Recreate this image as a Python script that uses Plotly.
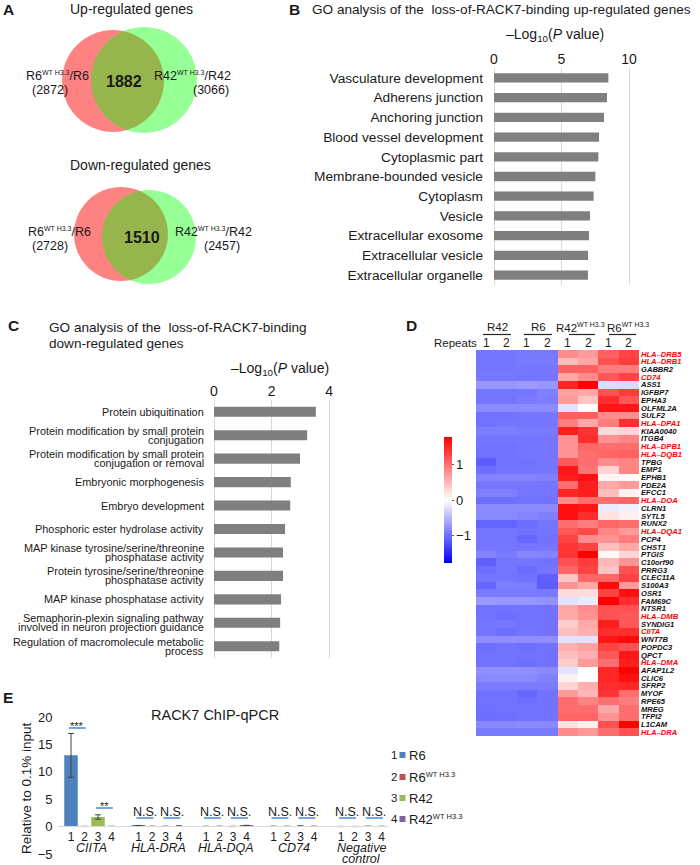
import plotly.graph_objects as go

W, H = 700, 865
FONT = "Arial, 'Liberation Sans', Helvetica, sans-serif"
TXT = "#1a1a1a"

# ------------------------------------------------------------------ data
# Panel A: Venn counts  [R6 side, overlap, R42 side]
venn_up_counts = [2872, 1882, 3066]
venn_down_counts = [2728, 1510, 2457]

# Panel B
go_up_terms = ["Vasculature development", "Adherens junction", "Anchoring junction",
               "Blood vessel development", "Cytoplasmic part", "Membrane-bounded vesicle",
               "Cytoplasm", "Vesicle", "Extracellular exosome", "Extracellular vesicle",
               "Extracellular organelle"]
go_up_values = [8.47, 8.37, 8.15, 7.78, 7.73, 7.51, 7.38, 7.11, 7.04, 6.97, 6.96]
go_up_ticks = [0, 5, 10]

# Panel C
go_down_terms = ["Protein ubiquitination",
                 "Protein modification by small protein<br>conjugation",
                 "Protein modification by small protein<br>conjugation or removal",
                 "Embryonic morphogenesis",
                 "Embryo development",
                 "Phosphoric ester hydrolase activity",
                 "MAP kinase tyrosine/serine/threonine<br>phosphatase activity",
                 "Protein tyrosine/serine/threonine<br>phosphatase activity",
                 "MAP kinase phosphatase activity",
                 "Semaphorin-plexin signaling pathway<br>involved in neuron projection guidance",
                 "Regulation of macromolecule metabolic<br>process"]
go_down_values = [3.54, 3.24, 2.99, 2.67, 2.65, 2.47, 2.40, 2.40, 2.33, 2.30, 2.27]
go_down_ticks = [0, 2, 4]

# Panel D: heatmap (row-scaled expression)
genes = ["HLA-DRB5", "HLA-DRB1", "GABBR2", "CD74", "ASS1", "IGFBP7", "EPHA3", "OLFML2A",
         "SULF2", "HLA-DPA1", "KIAA0040", "ITGB4", "HLA-DPB1", "HLA-DQB1", "TPBG", "EMP1",
         "EPHB1", "PDE2A", "EFCC1", "HLA-DOA", "CLRN1", "SYTL5", "RUNX2", "HLA-DQA1",
         "PCP4", "CHST1", "PTGIS", "C10orf90", "PRRG3", "CLEC11A", "S100A3", "OSR1",
         "FAM69C", "NTSR1", "HLA-DMB", "SYNDIG1", "CIITA", "WNT7B", "POPDC3", "QPCT",
         "HLA-DMA", "AFAP1L2", "CLIC6", "SFRP2", "MYOF", "RPE65", "MREG", "TFPI2",
         "L1CAM", "HLA-DRA"]
highlight_genes = ["HLA-DRB5", "HLA-DRB1", "CD74", "HLA-DPA1", "HLA-DPB1", "HLA-DQB1",
                   "HLA-DOA", "HLA-DQA1", "HLA-DMB", "CIITA", "HLA-DMA", "HLA-DRA"]
heat_columns = ["R42 1", "R42 2", "R6 1", "R6 2",
                "R42WT 1", "R42WT 2", "R6WT 1", "R6WT 2"]
r42_rep1 = [-0.95, -0.95, -0.95, -0.93, -0.72, -0.95, -0.95, -0.80, -0.97, -0.97,
            -0.90, -0.95, -0.97, -0.97, -1.12, -1.00, -0.85, -0.95, -0.88, -1.00,
            -0.80, -0.82, -1.07, -0.95, -0.95, -0.95, -0.85, -1.10, -1.00, -0.95,
            -1.05, -0.92, -0.70, -0.97, -0.97, -0.95, -0.95, -0.78, -1.00, -0.97,
            -0.97, -0.77, -0.82, -0.92, -0.97, -0.97, -1.00, -1.00, -0.82, -0.92]
r42_rep2 = [-0.95, -0.95, -0.95, -0.93, -0.72, -0.95, -0.95, -0.80, -0.97, -0.95,
            -0.90, -0.95, -0.97, -0.97, -0.97, -0.95, -0.85, -0.95, -0.88, -1.00,
            -0.80, -0.82, -1.07, -0.95, -0.95, -0.95, -0.92, -0.95, -0.95, -0.95,
            -0.90, -0.92, -0.72, -0.97, -1.00, -0.95, -1.00, -0.78, -0.97, -0.97,
            -0.97, -0.77, -0.82, -0.92, -0.97, -0.97, -0.97, -1.00, -0.82, -0.92]
r6_rep1 = [-0.93, -0.92, -0.95, -0.95, -0.70, -0.95, -0.92, -0.80, -0.95, -0.95,
           -0.92, -0.95, -0.95, -0.95, -0.97, -0.95, -0.85, -0.95, -0.95, -0.97,
           -0.80, -0.85, -1.00, -0.97, -1.05, -0.95, -0.83, -0.95, -1.02, -0.97,
           -0.90, -0.92, -0.72, -0.97, -0.97, -0.97, -0.95, -0.78, -1.00, -0.97,
           -1.00, -0.77, -0.82, -0.92, -1.05, -1.00, -0.97, -0.97, -0.80, -0.92]
r6_rep2 = [-0.93, -0.92, -0.95, -0.95, -0.72, -0.88, -0.90, -0.80, -0.95, -0.95,
           -0.92, -0.95, -0.95, -0.95, -0.95, -0.95, -0.87, -0.95, -0.95, -0.97,
           -0.80, -0.88, -0.95, -0.95, -0.97, -0.95, -0.85, -0.97, -0.95, -1.10,
           -1.12, -0.92, -0.75, -0.97, -0.97, -0.97, -0.97, -0.78, -0.97, -0.97,
           -0.97, -0.80, -0.87, -0.92, -0.97, -0.97, -0.97, -0.97, -0.82, -0.92]
r42wt_rep1 = [0.80, 0.45, 1.10, 0.60, 1.50, 0.65, 0.70, -0.20, 1.10, 0.90,
              1.55, 0.75, 0.75, 0.75, 1.15, 1.60, 1.55, 1.00, 1.50, 0.80,
              1.65, 1.65, 1.00, 1.15, 1.30, 1.40, 1.40, 1.20, 1.05, 0.40,
              0.75, 0.25, -0.20, 0.60, 0.60, 0.35, 0.45, -0.20, 0.55, 0.45,
              0.35, -0.20, 0.10, 0.30, 0.70, 1.00, 1.00, 1.05, 0.20, 0.80]
r42wt_rep2 = [0.70, 0.60, 1.10, 0.80, 1.75, 0.60, 0.40, 0.00, 1.10, 0.60,
              1.40, 1.45, 1.05, 1.00, 1.00, 0.95, 1.65, 1.55, 1.55, 1.00,
              1.60, 1.45, 0.90, 1.25, 0.80, 1.30, 1.75, 1.35, 1.30, 1.05,
              0.60, 0.25, -0.15, 0.80, 0.75, 0.60, 0.55, -0.20, 0.65, 0.55,
              0.70, 0.00, 0.00, 0.55, 0.50, 0.85, 1.00, 1.05, 0.10, 0.70]
r6wt_rep1 = [1.10, 1.20, 0.90, 1.15, -0.25, 1.20, 1.45, 1.60, 0.80, 0.90,
             0.25, 0.75, 1.00, 1.05, 0.80, 0.30, 0.07, 0.60, 0.45, 1.00,
             -0.15, 0.20, 1.05, 0.85, 0.75, 0.45, 0.05, 0.50, 0.40, 1.05,
             1.70, 1.30, 1.75, 1.20, 1.20, 1.55, 1.45, 1.60, 1.30, 1.15,
             1.00, 1.50, 1.50, 1.45, 1.40, 1.00, 0.60, 0.75, 1.20, 1.00]
r6wt_rep2 = [1.30, 1.35, 0.90, 1.30, -0.25, 1.35, 1.15, 1.60, 0.80, 1.45,
             0.30, 0.85, 1.00, 1.10, 0.85, 0.85, 0.03, 0.70, 0.10, 1.05,
             -0.10, 0.10, 1.00, 0.70, 0.90, 0.60, 0.30, 0.75, 1.20, 1.30,
             0.70, 1.65, 1.45, 1.20, 1.15, 1.15, 1.45, 1.70, 1.20, 1.60,
             1.55, 1.75, 1.65, 1.50, 1.00, 0.90, 1.00, 1.00, 1.75, 1.20]
heat_ticks = [-1, 0, 1]

# Panel E: ChIP-qPCR
chip_targets = ["CIITA", "HLA-DRA", "HLA-DQA", "CD74", "Negative<br>control"]
chip_series = ["R6", "R6|WT H3.3", "R42", "R42|WT H3.3"]
chip_r6 = [13.0, 0.15, 0.04, 0.05, 0.02]
chip_r6_err = [4.0, 0.06, 0.03, 0.03, 0.02]
chip_r6wt = [0.03, 0.04, 0.05, 0.04, 0.02]
chip_r6wt_err = [0.02, 0.03, 0.03, 0.03, 0.02]
chip_r42 = [1.75, 0.05, 0.03, 0.10, 0.05]
chip_r42_err = [0.40, 0.03, 0.03, 0.04, 0.03]
chip_r42wt = [0.04, 0.10, 0.18, 0.05, 0.04]
chip_r42wt_err = [0.02, 0.04, 0.05, 0.03, 0.02]
chip_sig = [["***", "**"], ["N.S.", "N.S."], ["N.S.", "N.S."], ["N.S.", "N.S."], ["N.S.", "N.S."]]
chip_yticks = [-5, 0, 5, 10, 15, 20]
chip_colors = ["#4F81BD", "#C0504D", "#9BBB59", "#8064A2"]


# ------------------------------------------------------------------ helpers
def X(px):
    return px / W


def Y(py):
    return 1 - py / H


def sup(base, s, size):
    return '%s<sup><span style="font-size:%spx">%s</span></sup>' % (base, size, s)


annotations = []
shapes = []


def ann(text, px, py, size=12, xanchor="center", yanchor="middle", color=TXT, **kw):
    d = dict(text=text, x=X(px), y=Y(py), xref="paper", yref="paper",
             xanchor=xanchor, yanchor=yanchor, showarrow=False,
             font=dict(size=size, color=color, family=FONT))
    d.update(kw)
    annotations.append(d)


fig = go.Figure()

# ------------------------------------------------------------------ Panel A
ann("<b>A</b>", 1, 9, size=15.5, xanchor="left")


def venn(title, ty, counts, red, green, txt_y, lab_l, lab_r):
    ann(title, *ty, size=14)
    for (cx, cy, r), col in [(red, "rgba(255,0,0,0.49)"), (green, "rgba(0,255,0,0.41)")]:
        shapes.append(dict(type="circle", xref="paper", yref="paper", layer="below",
                           x0=X(cx - r), x1=X(cx + r), y0=Y(cy + r), y1=Y(cy - r),
                           fillcolor=col, line=dict(width=0)))
    ann(sup("R6", "WT H3.3", 7) + "/R6", lab_l[0], txt_y, size=12.5)
    ann("(%d)" % counts[0], lab_l[1], txt_y + 14, size=12.5)
    ann("<b>%d</b>" % counts[1], lab_l[2], txt_y + 6, size=16)
    ann(sup("R42", "WT H3.3", 7) + "/R42", lab_r[0], txt_y, size=12.5)
    ann("(%d)" % counts[2], lab_r[1], txt_y + 14, size=12.5)


venn("Up-regulated genes", (131, 9), venn_up_counts, (113, 81, 51), (144, 80, 53),
     76, (58, 50, 124), (193, 211))
venn("Down-regulated genes", (140, 165), venn_down_counts, (121, 234, 47), (149, 237, 47),
     232, (59, 50, 142), (213, 222))

# ------------------------------------------------------------------ Panel B
fig.add_trace(go.Bar(x=go_up_values, y=go_up_terms, orientation="h", width=0.47,
                     marker=dict(color="#7f7f7f", line=dict(width=0)),
                     xaxis="x", yaxis="y", showlegend=False))
ann("<b>B</b>", 287, 10, size=15.5, xanchor="left")
ann("GO analysis of the \u00a0loss-of-RACK7-binding up-regulated genes", 310, 10,
    size=13.6, xanchor="left")
ann("\u2013Log<sub>10</sub>(<i>P</i> value)", 555, 35, size=14)

# ------------------------------------------------------------------ Panel C
fig.add_trace(go.Bar(x=go_down_values, y=go_down_terms, orientation="h", width=0.43,
                     marker=dict(color="#7f7f7f", line=dict(width=0)),
                     xaxis="x2", yaxis="y2", showlegend=False))
ann("<b>C</b>", 6, 325, size=15.5, xanchor="left")
ann("GO analysis of the \u00a0loss-of-RACK7-binding", 47, 327, size=13.6, xanchor="left")
ann("down-regulated genes", 47, 343, size=13.6, xanchor="left")
ann("\u2013Log<sub>10</sub>(<i>P</i> value)", 280, 369, size=14)
for term in go_down_terms:
    lines = term.split("<br>")
    shifts = [0] if len(lines) == 1 else [4.5, -4.5]
    for line, sh in zip(lines, shifts):
        annotations.append(dict(text=line, x=X(206), xref="paper", y=term, yref="y2",
                                xanchor="right", yanchor="middle", yshift=sh,
                                showarrow=False,
                                font=dict(size=10.9, color=TXT, family=FONT)))

# ------------------------------------------------------------------ Panel D
z = [list(row) for row in zip(r42_rep1, r42_rep2, r6_rep1, r6_rep2,
                              r42wt_rep1, r42wt_rep2, r6wt_rep1, r6wt_rep2)]
fig.add_trace(go.Heatmap(
    z=z, x=list(range(len(heat_columns))), y=genes, xaxis="x3", yaxis="y3",
    colorscale=[[0, "#0000ff"], [0.5, "#ffffff"], [1, "#ff0000"]],
    zmin=-1.76, zmax=1.76, xgap=0, ygap=0,
    colorbar=dict(x=X(444), xanchor="left", y=Y(500), yanchor="middle",
                  len=126 / H, lenmode="fraction", thickness=8, xpad=0, ypad=0,
                  outlinewidth=0, tickvals=heat_ticks,
                  ticktext=["\u22121" if t < 0 else str(t) for t in heat_ticks],
                  ticks="outside", ticklen=2, tickcolor="#555",
                  tickfont=dict(size=13, color=TXT, family=FONT))))
gene_text = []
for g in genes:
    col = "#ff0000" if g in highlight_genes else "#111111"
    gene_text.append('<span style="color:%s"><b><i>%s</i></b></span>' % (col, g.replace("-", "\u2013")))

ann("<b>D</b>", 404, 325, size=15.5, xanchor="left")
hdr = [("R42", 497, 483, 511), ("R6", 538, 524, 552),
       (sup("R42", "WT H3.3", 7), 580, 569, 595), (sup("R6", "WT H3.3", 7), 628, 609, 636)]
for text, cx, l, r in hdr:
    ann(text, cx, 327, size=11.5)
    shapes.append(dict(type="line", xref="paper", yref="paper", x0=X(l), x1=X(r),
                       y0=Y(334.5), y1=Y(334.5), line=dict(color="#222", width=1.2)))
ann("Repeats", 455, 343, size=11.5)
for i in range(len(heat_columns)):
    annotations.append(dict(text=heat_columns[i].split()[-1], x=i, xref="x3", y=Y(343),
                            yref="paper", xanchor="center", yanchor="middle",
                            showarrow=False, font=dict(size=12, color=TXT, family=FONT)))

# ------------------------------------------------------------------ Panel E
ann("<b>E</b>", 1, 697, size=15.5, xanchor="left")
ann("RACK7 ChIP-qPCR", 215, 715, size=14.5)
ann("Relative to 0.1% input", 26, 788, size=13.5, textangle=-90)

series_vals = [(chip_r6, chip_r6_err), (chip_r6wt, chip_r6wt_err),
               (chip_r42, chip_r42_err), (chip_r42wt, chip_r42wt_err)]
GAPU = 5
for si, (vals, errs) in enumerate(series_vals):
    xs = [g * GAPU + si for g in range(len(chip_targets))]
    fig.add_trace(go.Bar(x=xs, y=vals, width=1.0, name=chip_series[si].replace("|", " "),
                         marker=dict(color=chip_colors[si], line=dict(width=0)),
                         error_y=dict(type="data", array=errs, visible=True,
                                      color="#404040", thickness=1, width=3),
                         xaxis="x4", yaxis="y4", showlegend=False))

for g, target in enumerate(chip_targets):
    for li, line in enumerate(target.split("<br>")):
        annotations.append(dict(text="<i>%s</i>" % line, x=g * GAPU + 1.5, xref="x4",
                                y=Y(848 + 11 * li), yref="paper", xanchor="center",
                                yanchor="middle", showarrow=False,
                                font=dict(size=12.5, color=TXT, family=FONT)))
    for p in range(2):
        x0 = g * GAPU + 2 * p - 0.15
        x1 = g * GAPU + 2 * p + 1.1
        label = chip_sig[g][p]
        if g == 0:
            ly = 728 if p == 0 else 808
        else:
            ly = 818
        shapes.append(dict(type="line", xref="x4", yref="paper", x0=x0, x1=x1,
                           y0=Y(ly), y1=Y(ly), line=dict(color="#4a86d8", width=1.6)))
        ty = ly - 2 if label.startswith("*") else ly - 6
        annotations.append(dict(text=label, x=(x0 + x1) / 2, xref="x4", y=Y(ty),
                                yref="paper", xanchor="center", yanchor="middle",
                                showarrow=False,
                                font=dict(size=12.5 if label == "N.S." else 11,
                                          color=TXT, family=FONT)))

leg_y = [755, 777, 798, 819]
for si, name in enumerate(chip_series):
    ann(str(si + 1), 394, leg_y[si], size=11.5)
    shapes.append(dict(type="rect", xref="paper", yref="paper", x0=X(399.5), x1=X(405.5),
                       y0=Y(leg_y[si] + 3), y1=Y(leg_y[si] - 3),
                       fillcolor=chip_colors[si], line=dict(width=0)))
    parts = name.split("|")
    label = parts[0] if len(parts) == 1 else sup(parts[0], parts[1], 7.5)
    ann(label, 406.5, leg_y[si], size=13, xanchor="left")

chip_xvals = [g * GAPU + s for g in range(len(chip_targets)) for s in range(4)]
chip_xtext = [str(s + 1) for g in range(len(chip_targets)) for s in range(4)]

# ------------------------------------------------------------------ layout
tickf = dict(size=13.7, color=TXT, family=FONT)
fig.update_layout(
    width=W, height=H, margin=dict(l=0, r=0, t=0, b=0, pad=0), autosize=False,
    paper_bgcolor="white", plot_bgcolor="rgba(0,0,0,0)",
    font=dict(family=FONT, color=TXT), barmode="overlay", showlegend=False,
    xaxis=dict(domain=[X(494), X(634.4)], range=[0, 10.4], side="top", anchor="y",
               tickvals=go_up_ticks, showgrid=True, gridcolor="#d9d9d9", gridwidth=1,
               zeroline=True, zerolinecolor="#d9d9d9", zerolinewidth=1, showline=False,
               ticks="", tickfont=dict(size=14, color=TXT, family=FONT),
               ticklabelstandoff=0, fixedrange=True, automargin=False),
    yaxis=dict(domain=[Y(285), Y(68)], range=[10.5, -0.5], type="category",
               categoryorder="array", categoryarray=go_up_terms, anchor="x",
               showgrid=False, zeroline=False, ticks="", tickfont=tickf,
               ticklabelstandoff=10, fixedrange=True, automargin=False),
    xaxis2=dict(domain=[X(214), X(332.5)], range=[0, 4.12], side="top", anchor="y2",
                tickvals=go_down_ticks, showgrid=True, gridcolor="#d9d9d9", gridwidth=1,
                zeroline=True, zerolinecolor="#d9d9d9", zerolinewidth=1, showline=False,
                ticks="", tickfont=dict(size=14, color=TXT, family=FONT),
                ticklabelstandoff=0, fixedrange=True, automargin=False),
    yaxis2=dict(domain=[Y(658), Y(400)], range=[10.5, -0.5], type="category",
                categoryorder="array", categoryarray=go_down_terms, anchor="x2",
                showgrid=False, zeroline=False, showticklabels=False, ticks="",
                fixedrange=True, automargin=False),
    xaxis3=dict(domain=[X(476), X(639)], range=[-0.5, 7.5], anchor="y3", visible=False,
                fixedrange=True, automargin=False),
    yaxis3=dict(domain=[Y(736), Y(350)], range=[49.5, -0.5], type="category",
                categoryorder="array", categoryarray=genes, anchor="x3", side="right",
                tickmode="array", tickvals=genes, ticktext=gene_text, ticks="",
                showgrid=False, zeroline=False, showline=False,
                tickfont=dict(size=7.6, family=FONT), ticklabelstandoff=1,
                fixedrange=True, automargin=False),
    xaxis4=dict(domain=[X(57.5), X(388.25)], range=[-1, 23.5], anchor="free",
                position=Y(826), showline=True, linecolor="#d9d9d9", linewidth=1,
                tickmode="array", tickvals=chip_xvals, ticktext=chip_xtext, ticks="",
                showgrid=False, zeroline=False,
                tickfont=dict(size=12, color=TXT, family=FONT), ticklabelstandoff=0,
                fixedrange=True, automargin=False),
    yaxis4=dict(domain=[Y(854), Y(717)], range=[-5, 20], anchor="x4",
                tickmode="array", tickvals=chip_yticks,
                ticktext=[("\u2212%d" % -t) if t < 0 else str(t) for t in chip_yticks],
                showgrid=False, zeroline=False, showline=False, ticks="",
                tickfont=dict(size=13, color=TXT, family=FONT), ticklabelstandoff=4,
                fixedrange=True, automargin=False),
    annotations=annotations, shapes=shapes,
)

fig.write_html("out.html", config={"displayModeBar": False},
               post_script="document.body.style.margin='0px';")
